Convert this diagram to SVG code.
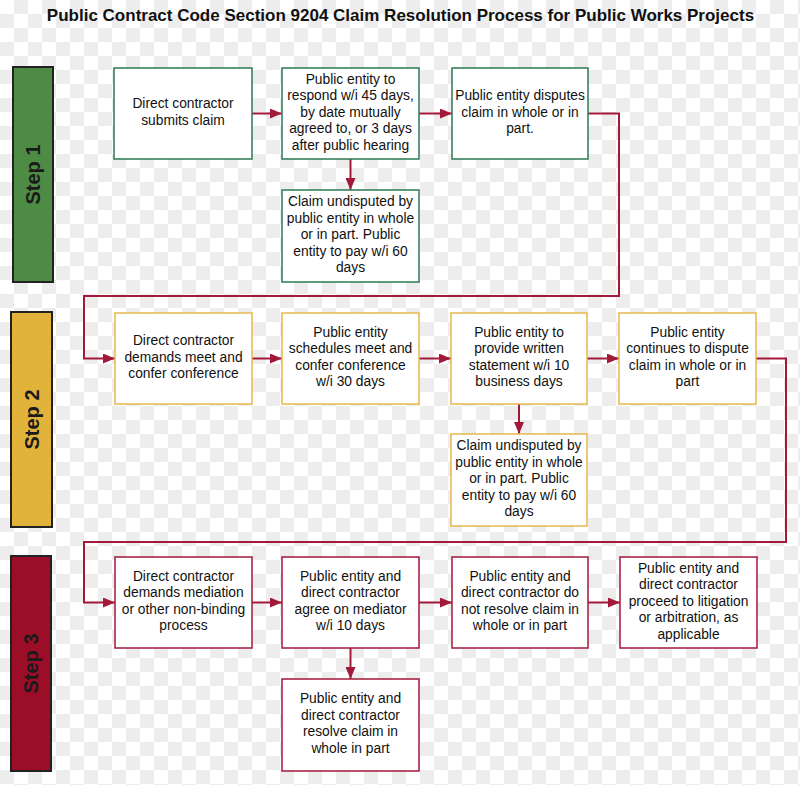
<svg xmlns="http://www.w3.org/2000/svg" width="800" height="785" viewBox="0 0 800 785">
<style>
.t{font-family:"Liberation Sans",Arial,sans-serif;font-size:13.8px;fill:#111;text-anchor:middle}
.title{font-family:"Liberation Sans",Arial,sans-serif;font-size:17px;font-weight:bold;fill:#111;text-anchor:middle}
.step{font-family:"Liberation Sans",Arial,sans-serif;font-size:20px;font-weight:bold;fill:#1a1a1a;text-anchor:middle}
.g{fill:#fff;stroke:#2b7a55;stroke-width:1.5}
.y{fill:#fff;stroke:#e6b84a;stroke-width:1.5}
.r{fill:#fff;stroke:#a3193a;stroke-width:1.5}
.bar{stroke:#222;stroke-width:2}
.c{fill:none;stroke:#a3193a;stroke-width:2;marker-end:url(#ah)}
</style>
<defs>
<pattern id="chk" width="28" height="28" patternUnits="userSpaceOnUse">
<rect width="28" height="28" fill="#ffffff"/>
<rect x="14" y="0" width="14" height="14" fill="#ededed"/>
<rect x="0" y="14" width="14" height="14" fill="#ededed"/>
</pattern>
<marker id="ah" markerUnits="userSpaceOnUse" markerWidth="12" markerHeight="10" refX="12" refY="5" orient="auto">
<path d="M0,0 L12,5 L0,10 z" fill="#a3193a"/>
</marker>
</defs>
<rect width="800" height="785" fill="url(#chk)"/>
<text class="title" x="400.5" y="21">Public Contract Code Section 9204 Claim Resolution Process for Public Works Projects</text>

<g id="step1"><rect class="bar" x="13" y="67" width="40" height="215" fill="#4e8b45"/><text class="step" transform="translate(40,174.5) rotate(-90)">Step 1</text></g>
<g id="step2"><rect class="bar" x="11" y="312" width="41" height="215" fill="#e2b33b"/><text class="step" transform="translate(38.5,419.5) rotate(-90)">Step 2</text></g>
<g id="step3"><rect class="bar" x="11" y="556" width="40" height="215" fill="#9c0d28"/><text class="step" transform="translate(38,663.5) rotate(-90)">Step 3</text></g>

<g id="connectors">
<path class="c" d="M252,113.5 H282"/>
<path class="c" d="M419,113.5 H452"/>
<path class="c" d="M350.5,159 V190"/>
<path class="c" d="M588,113.5 H619 V296 H84 V358.5 H115"/>
<path class="c" d="M252,358.5 H282"/>
<path class="c" d="M419,358.5 H451"/>
<path class="c" d="M587,358.5 H619"/>
<path class="c" d="M519,404 V434"/>
<path class="c" d="M756,358.5 H786 V542 H84 V602.5 H115"/>
<path class="c" d="M252,602.5 H282"/>
<path class="c" d="M419,602.5 H452"/>
<path class="c" d="M588,602.5 H620"/>
<path class="c" d="M350.5,648 V679"/>
</g>

<g id="n1"><rect class="g" x="114" y="68" width="138" height="91"/><text class="t"><tspan x="183" y="108.3">Direct contractor</tspan><tspan x="183" y="124.8">submits claim</tspan></text></g>
<g id="n2"><rect class="g" x="282" y="68" width="137" height="91"/><text class="t"><tspan x="350.5" y="83.8">Public entity to</tspan><tspan x="350.5" y="100.3">respond w/i 45 days,</tspan><tspan x="350.5" y="116.8">by date mutually</tspan><tspan x="350.5" y="133.3">agreed to, or 3 days</tspan><tspan x="350.5" y="149.8">after public hearing</tspan></text></g>
<g id="n3"><rect class="g" x="452" y="68" width="136" height="91"/><text class="t"><tspan x="520" y="100">Public entity disputes</tspan><tspan x="520" y="116.5">claim in whole or in</tspan><tspan x="520" y="133">part.</tspan></text></g>
<g id="n4"><rect class="g" x="282" y="190" width="137" height="92"/><text class="t"><tspan x="350.5" y="206">Claim undisputed by</tspan><tspan x="350.5" y="222.5">public entity in whole</tspan><tspan x="350.5" y="239">or in part. Public</tspan><tspan x="350.5" y="255.5">entity to pay w/i 60</tspan><tspan x="350.5" y="272">days</tspan></text></g>

<g id="m1"><rect class="y" x="115" y="313" width="137" height="91"/><text class="t"><tspan x="183.5" y="345">Direct contractor</tspan><tspan x="183.5" y="361.5">demands meet and</tspan><tspan x="183.5" y="378">confer conference</tspan></text></g>
<g id="m2"><rect class="y" x="282" y="313" width="137" height="91"/><text class="t"><tspan x="350.5" y="336.8">Public entity</tspan><tspan x="350.5" y="353.3">schedules meet and</tspan><tspan x="350.5" y="369.8">confer conference</tspan><tspan x="350.5" y="386.3">w/i 30 days</tspan></text></g>
<g id="m3"><rect class="y" x="451" y="313" width="136" height="91"/><text class="t"><tspan x="519" y="336.8">Public entity to</tspan><tspan x="519" y="353.3">provide written</tspan><tspan x="519" y="369.8">statement w/i 10</tspan><tspan x="519" y="386.3">business days</tspan></text></g>
<g id="m4"><rect class="y" x="619" y="313" width="137" height="91"/><text class="t"><tspan x="687.5" y="336.8">Public entity</tspan><tspan x="687.5" y="353.3">continues to dispute</tspan><tspan x="687.5" y="369.8">claim in whole or in</tspan><tspan x="687.5" y="386.3">part</tspan></text></g>
<g id="m5"><rect class="y" x="451" y="434" width="136" height="92"/><text class="t"><tspan x="519" y="450">Claim undisputed by</tspan><tspan x="519" y="466.5">public entity in whole</tspan><tspan x="519" y="483">or in part. Public</tspan><tspan x="519" y="499.5">entity to pay w/i 60</tspan><tspan x="519" y="516">days</tspan></text></g>

<g id="r1"><rect class="r" x="115" y="557" width="137" height="91"/><text class="t"><tspan x="183.5" y="580.8">Direct contractor</tspan><tspan x="183.5" y="597.3">demands mediation</tspan><tspan x="183.5" y="613.8">or other non-binding</tspan><tspan x="183.5" y="630.3">process</tspan></text></g>
<g id="r2"><rect class="r" x="282" y="557" width="137" height="91"/><text class="t"><tspan x="350.5" y="580.8">Public entity and</tspan><tspan x="350.5" y="597.3">direct contractor</tspan><tspan x="350.5" y="613.8">agree on mediator</tspan><tspan x="350.5" y="630.3">w/i 10 days</tspan></text></g>
<g id="r3"><rect class="r" x="452" y="557" width="136" height="91"/><text class="t"><tspan x="520" y="580.8">Public entity and</tspan><tspan x="520" y="597.3">direct contractor do</tspan><tspan x="520" y="613.8">not resolve claim in</tspan><tspan x="520" y="630.3">whole or in part</tspan></text></g>
<g id="r4"><rect class="r" x="620" y="557" width="137" height="91"/><text class="t"><tspan x="688.5" y="572.5">Public entity and</tspan><tspan x="688.5" y="589">direct contractor</tspan><tspan x="688.5" y="605.5">proceed to litigation</tspan><tspan x="688.5" y="622">or arbitration, as</tspan><tspan x="688.5" y="638.5">applicable</tspan></text></g>
<g id="r5"><rect class="r" x="282" y="679" width="137" height="92"/><text class="t"><tspan x="350.5" y="703.3">Public entity and</tspan><tspan x="350.5" y="719.8">direct contractor</tspan><tspan x="350.5" y="736.3">resolve claim in</tspan><tspan x="350.5" y="752.8">whole in part</tspan></text></g>
</svg>
